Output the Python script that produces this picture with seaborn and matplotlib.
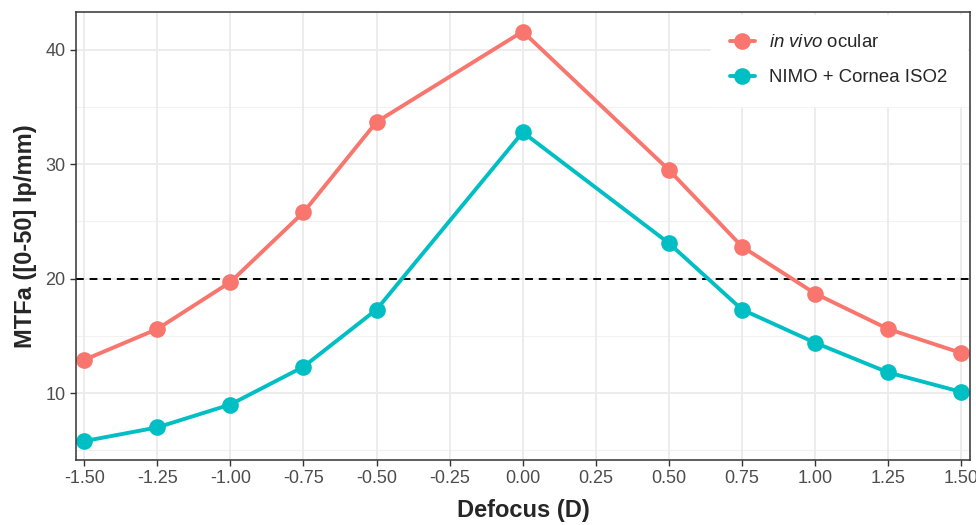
import matplotlib
matplotlib.use("Agg")
import matplotlib.pyplot as plt
import seaborn as sns
import pandas as pd

defocus = [-1.5, -1.25, -1.0, -0.75, -0.5, 0.0, 0.5, 0.75, 1.0, 1.25, 1.5]
in_vivo = [12.9, 15.6, 19.7, 25.8, 33.7, 41.6, 29.5, 22.8, 18.7, 15.6, 13.5]
nimo = [5.8, 7.0, 9.0, 12.3, 17.3, 32.8, 23.1, 17.3, 14.4, 11.8, 10.1]
series_names = [r"$\it{in\ vivo}$ ocular", "NIMO + Cornea ISO2"]
colors = ["#F8766D", "#00BFC4"]
xticks = [-1.5, -1.25, -1.0, -0.75, -0.5, -0.25, 0.0, 0.25, 0.5, 0.75, 1.0, 1.25, 1.5]
yticks = [10, 20, 30, 40]
threshold = 20

df = pd.DataFrame({
    "Defocus": defocus * 2,
    "MTFa": in_vivo + nimo,
    "Series": [series_names[0]] * len(defocus) + [series_names[1]] * len(defocus),
})

sns.set_theme(style="white")
plt.rcParams["font.family"] = ["Liberation Sans", "DejaVu Sans"]
plt.rcParams["mathtext.fontset"] = "custom"
plt.rcParams["mathtext.rm"] = "Liberation Sans"
plt.rcParams["mathtext.it"] = "Liberation Sans:italic"

fig = plt.figure(figsize=(9.76, 5.25), dpi=100)
ax = fig.add_axes([0.0779, 0.1238, 0.916, 0.8532])

# grid
ax.set_axisbelow(True)
for yv in [5, 15, 25, 35]:
    ax.axhline(yv, color="#F2F2F2", lw=0.8, zorder=0)
for yv in yticks:
    ax.axhline(yv, color="#EBEBEB", lw=1.3, zorder=0)
for xv in xticks:
    ax.axvline(xv, color="#EBEBEB", lw=1.3, zorder=0)

ax.axhline(threshold, color="black", lw=1.4, ls=(0, (4, 3)), zorder=1)

sns.lineplot(data=df, x="Defocus", y="MTFa", hue="Series", palette=colors,
             marker="o", markersize=12, markeredgewidth=0, linewidth=2.8,
             ax=ax, zorder=3)

ax.set_xlim(-1.528, 1.53)
ax.set_ylim(4.15, 43.3)
ax.set_xticks(xticks)
ax.set_xticklabels([f"{v:.2f}" for v in xticks])
ax.set_yticks(yticks)
ax.tick_params(axis="both", labelsize=13, labelcolor="#4D4D4D", color="#333333",
               length=4, width=1, direction="out", bottom=True, left=True)
for s in ax.spines.values():
    s.set_color("#333333")
    s.set_linewidth(1.1)
    s.set_zorder(6)

ax.set_xlabel("Defocus (D)", fontsize=17, fontweight="bold", labelpad=8)
ax.set_ylabel("MTFa ([0-50] lp/mm)", fontsize=17, fontweight="bold", labelpad=6)

leg = ax.legend(title=None, loc="upper right", frameon=True, fontsize=13.4,
                bbox_to_anchor=(1.0, 1.0), borderpad=1.05, labelspacing=0.95,
                handlelength=1.3, handletextpad=0.8, borderaxespad=0.15,
                fancybox=False)
leg.get_frame().set_edgecolor("white")
leg.get_frame().set_facecolor("white")
leg.get_frame().set_alpha(1)
leg.set_zorder(5)

fig.savefig("out.png", dpi=100)
